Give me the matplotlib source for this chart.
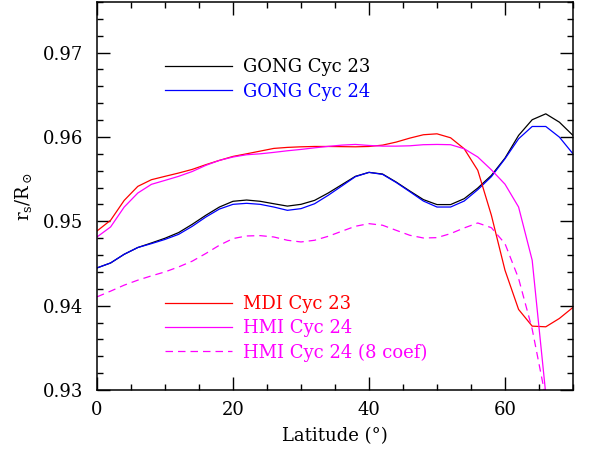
import numpy as np
import matplotlib
matplotlib.use("Agg")
import matplotlib.pyplot as plt
from matplotlib.ticker import MultipleLocator

# latitude grid (degrees), one point every 2 degrees
lat = np.arange(0, 72, 2)

gong23 = [0.94447, 0.94506, 0.94609, 0.94689, 0.94743, 0.94799, 0.94866, 0.94964,
          0.95071, 0.95169, 0.95237, 0.95252, 0.95237, 0.95208, 0.95180, 0.95201,
          0.95248, 0.95335, 0.95434, 0.95533, 0.95580, 0.95560, 0.95465, 0.95359,
          0.95257, 0.95198, 0.95198, 0.95268, 0.95394, 0.95544, 0.95749, 0.96018,
          0.96204, 0.96274, 0.96175, 0.96018]

gong24 = [0.94447, 0.94506, 0.94609, 0.94689, 0.94735, 0.94785, 0.94845, 0.94940,
          0.95050, 0.95145, 0.95201, 0.95213, 0.95201, 0.95169, 0.95130, 0.95150,
          0.95208, 0.95308, 0.95418, 0.95529, 0.95580, 0.95556, 0.95460, 0.95351,
          0.95240, 0.95169, 0.95169, 0.95240, 0.95375, 0.95529, 0.95741, 0.95978,
          0.96124, 0.96124, 0.95998, 0.95800]

mdi23 = [0.94885, 0.95012, 0.95248, 0.95414, 0.95493, 0.95533, 0.95572, 0.95615,
         0.95671, 0.95722, 0.95769, 0.95800, 0.95832, 0.95864, 0.95876, 0.95883,
         0.95887, 0.95887, 0.95885, 0.95883, 0.95887, 0.95903, 0.95939, 0.95986,
         0.96026, 0.96037, 0.95990, 0.95860, 0.95604, 0.95071, 0.94420, 0.93955,
         0.93757, 0.93749, 0.93848, 0.93979]

hmi24 = [0.94814, 0.94933, 0.95169, 0.95335, 0.95438, 0.95485, 0.95533, 0.95590,
         0.95663, 0.95722, 0.95762, 0.95789, 0.95800, 0.95817, 0.95836, 0.95852,
         0.95871, 0.95888, 0.95903, 0.95911, 0.95899, 0.95891, 0.95891, 0.95895,
         0.95908, 0.95911, 0.95908, 0.95860, 0.95762, 0.95610, 0.95440, 0.95169,
         0.94538, 0.92950, 0.91500, 0.90000]

hmi24_8 = [0.94104, 0.94172, 0.94243, 0.94302, 0.94353, 0.94400, 0.94459, 0.94527,
           0.94618, 0.94716, 0.94795, 0.94826, 0.94830, 0.94814, 0.94775, 0.94755,
           0.94775, 0.94822, 0.94882, 0.94941, 0.94972, 0.94953, 0.94893, 0.94834,
           0.94802, 0.94806, 0.94854, 0.94921, 0.94980, 0.94924, 0.94735, 0.94322,
           0.93722, 0.92900, 0.92000, 0.91000]

plt.rcParams['font.family'] = ['DejaVu Serif']
plt.rcParams['mathtext.fontset'] = 'dejavuserif'

fig = plt.figure(figsize=(5.89, 4.51), dpi=100)
ax = fig.add_axes([0.1647, 0.1353, 0.8081, 0.8603])

lw = 0.9
l1, = ax.plot(lat, gong23, color='black', lw=lw, label='GONG Cyc 23')
l2, = ax.plot(lat, gong24, color='blue', lw=lw, label='GONG Cyc 24')
l3, = ax.plot(lat, mdi23, color='red', lw=lw, label='MDI Cyc 23')
l4, = ax.plot(lat, hmi24, color='magenta', lw=lw, label='HMI Cyc 24')
l5, = ax.plot(lat, hmi24_8, color='magenta', lw=lw, ls=(0, (6, 4)),
              label='HMI Cyc 24 (8 coef)')

ax.set_xlim(0, 70)
ax.set_ylim(0.93, 0.976)
ax.xaxis.set_major_locator(MultipleLocator(20))
ax.xaxis.set_minor_locator(MultipleLocator(5))
ax.yaxis.set_major_locator(MultipleLocator(0.01))
ax.yaxis.set_minor_locator(MultipleLocator(0.002))
ax.yaxis.set_major_formatter(plt.FuncFormatter(lambda v, p: f"{v:.2f}"))
ax.tick_params(which='both', direction='in', top=True, right=True,
               labelsize=13, width=1.0)
ax.tick_params(which='major', length=9.5)
ax.tick_params(which='minor', length=4.5)
ax.tick_params(axis='y', pad=10)
ax.tick_params(axis='x', pad=8)
for s in ax.spines.values():
    s.set_linewidth(1.1)

ax.set_xlabel('Latitude (°)', fontsize=13, labelpad=6)
ax.set_ylabel(r'$\mathrm{r_s/R_\odot}$', fontsize=13, labelpad=6)

leg1 = ax.legend(handles=[l1, l2], loc='upper left', bbox_to_anchor=(0.143, 0.855),
                 frameon=False, fontsize=13, handlelength=3.7, handletextpad=0.6,
                 borderpad=0, borderaxespad=0, labelspacing=0.35,
                 labelcolor='linecolor')
ax.add_artist(leg1)
ax.legend(handles=[l3, l4, l5], loc='upper left', bbox_to_anchor=(0.143, 0.245),
          frameon=False, fontsize=13, handlelength=3.7, handletextpad=0.6,
          borderpad=0, borderaxespad=0, labelspacing=0.35,
          labelcolor='linecolor')

fig.savefig('out.png', dpi=100)
